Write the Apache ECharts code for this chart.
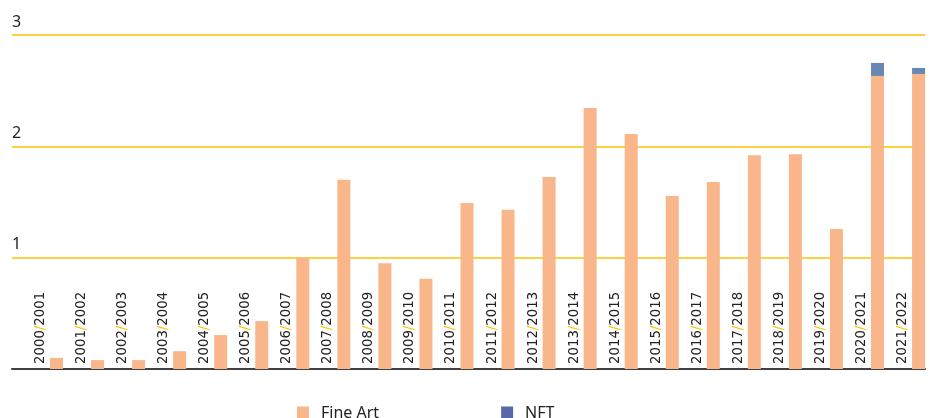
<!DOCTYPE html>
<html>
<head>
<meta charset="utf-8">
<script src="https://cdn.jsdelivr.net/npm/echarts@6/dist/echarts.min.js"></script>
<style>
  html, body { margin: 0; padding: 0; background: #fff; }
  #main { width: 930px; height: 418px; }
</style>
</head>
<body>
<div id="main"></div>
<script>
// seasons shown on the x axis
var categories = ['2000/2001', '2001/2002', '2002/2003', '2003/2004', '2004/2005', '2005/2006',
  '2006/2007', '2007/2008', '2008/2009', '2009/2010', '2010/2011', '2011/2012', '2012/2013',
  '2013/2014', '2014/2015', '2015/2016', '2016/2017', '2017/2018', '2018/2019', '2019/2020',
  '2020/2021', '2021/2022'];

// values
var fineArt = [0.10, 0.08, 0.08, 0.16, 0.305, 0.43, 1.00, 1.70, 0.95, 0.81, 1.49, 1.43, 1.725,
  2.345, 2.11, 1.555, 1.68, 1.92, 1.93, 1.257, 2.632, 2.65];
var nft = [0, 0, 0, 0, 0, 0, 0, 0, 0, 0, 0, 0, 0, 0, 0, 0, 0, 0, 0, 0, 0.117, 0.054];

var yTicks = [0, 1, 2, 3];

var myChart = echarts.init(document.getElementById('main'));

// x is a value axis so the bars can sit a bit right of the band like in the original.
// value goes first in each pair so echarts stacks on y and not on x
function pairs(arr) {
  return arr.map(function (v, i) { return [v, i]; });
}

var option = {
  animation: false,
  grid: { left: 12, right: 5, top: 35, bottom: 49 },
  legend: {
    left: 297,
    top: 405,
    padding: 0,
    icon: 'rect',
    itemWidth: 12,
    itemHeight: 13,
    itemGap: 122,
    textStyle: { fontFamily: 'Noto Sans', fontSize: 16, color: '#222', padding: [4, 0, 0, 7] },
    data: [
      { name: 'Fine Art' },
      { name: 'NFT', itemStyle: { color: '#5868A8' } }
    ]
  },
  xAxis: {
    type: 'value',
    min: -1.084,
    max: 21.157,
    splitLine: { show: false },
    axisTick: { show: false },
    axisLabel: { show: false },
    axisLine: { show: true, lineStyle: { color: '#404040', width: 2 } }
  },
  yAxis: {
    type: 'value',
    min: yTicks[0],
    max: yTicks[yTicks.length - 1],
    interval: 1,
    axisLine: { show: false },
    axisTick: { show: false },
    axisLabel: {
      inside: true,
      margin: 0,
      showMinLabel: false,
      align: 'left',
      verticalAlign: 'bottom',
      padding: [0, 0, 5, 0],
      fontFamily: 'Noto Sans',
      fontSize: 16,
      color: '#222'
    },
    splitLine: { lineStyle: { color: '#FFC000', width: 1.5 } }
  },
  series: [
    {
      name: 'Fine Art',
      type: 'bar',
      stack: 'total',
      barWidth: 13,
      encode: { x: 1, y: 0 },
      itemStyle: { color: '#F8B68A' },
      label: {
        show: true,
        position: 'insideBottom',
        distance: 5,
        rotate: 90,
        align: 'left',
        verticalAlign: 'middle',
        offset: [0, -16], // rotated frame: this pushes the text left of the bar
        formatter: function (p) {
          var parts = categories[p.dataIndex].split('/');
          return '{a|' + parts[0] + '}{s|/}{a|' + parts[1] + '}';
        },
        rich: {
          a: { fontFamily: 'DejaVu Sans', fontSize: 13.3, color: '#222' },
          s: { fontFamily: 'DejaVu Sans', fontSize: 13.3, color: '#FFC000' }
        }
      },
      data: pairs(fineArt)
    },
    {
      name: 'NFT',
      type: 'bar',
      stack: 'total',
      barWidth: 13,
      encode: { x: 1, y: 0 },
      itemStyle: { color: '#6888B3' },
      data: pairs(nft)
    }
  ]
};

myChart.setOption(option);
</script>
</body>
</html>
